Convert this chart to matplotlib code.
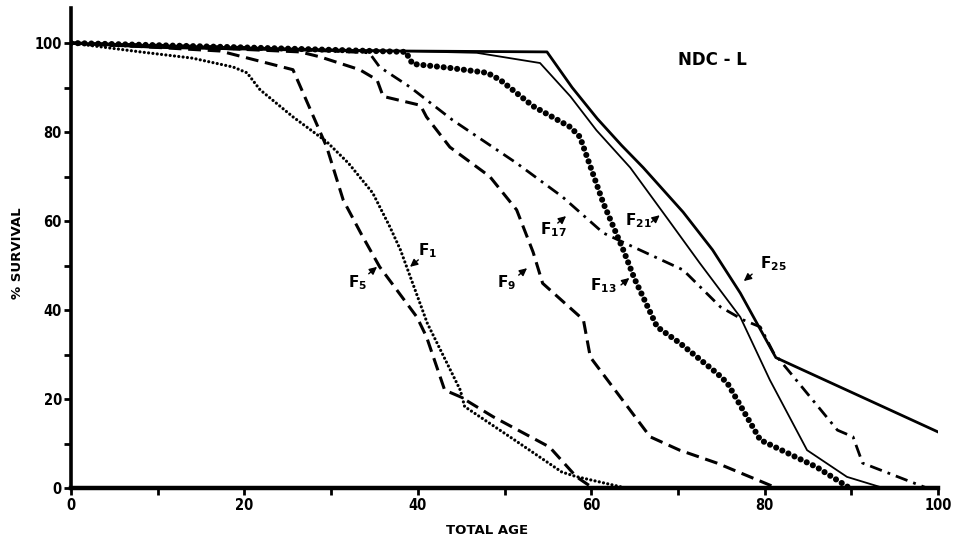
import matplotlib
matplotlib.use("Agg")
import matplotlib.pyplot as plt

plt.rcParams["font.family"] = ["DejaVu Sans"]
plt.rcParams["mathtext.fontset"] = "custom"
plt.rcParams["mathtext.rm"] = "DejaVu Sans:bold"
plt.rcParams["mathtext.it"] = "DejaVu Sans:bold"
plt.rcParams["mathtext.bf"] = "DejaVu Sans:bold"

# Survival curves (% alive vs. total age) for successive generations
f1_age = [0, 8, 14, 18.7, 20.3, 21.8, 25.6, 29.5, 32, 34.8, 36.8, 38, 41.1, 44.9, 45.4, 51, 56.6, 58.2, 64]
f1_surv = [100, 98, 96.6, 94.6, 93.3, 89.5, 83.4, 77.8, 73, 66.3, 58.6, 53.5, 37, 22, 18.3, 11, 3.6, 2.6, 0]

f5_age = [0, 10, 17.2, 25.6, 29.5, 31.4, 33.5, 35.6, 39.9, 41, 43.1, 44.9, 48.7, 55.2, 58.3, 60.2]
f5_surv = [100, 99, 98.2, 94, 76.6, 64.7, 57, 49.7, 38.4, 34, 22, 20.5, 16, 9.2, 2.5, 0]

f9_age = [0, 15, 26.4, 28.7, 33.3, 35.3, 36, 40.3, 41, 43.7, 48.3, 51.4, 53.3, 54.4, 59.1, 59.9, 66.8, 70.2, 74.5, 81.4]
f9_surv = [100, 99, 98, 96.9, 94, 91.7, 88, 86, 83.4, 76.6, 70, 62.5, 53, 46, 37.8, 29.4, 11.5, 8.5, 5.6, 0]

f13_age = [0, 20, 38.6, 39.4, 43.7, 48, 49.5, 53.3, 57.6, 58.7, 61.4, 63.7, 65, 67.6, 70.2, 74.5, 75.7, 79.5, 86, 89.8]
f13_surv = [100, 99, 98, 95.3, 94.4, 93.3, 91.7, 85.8, 81.1, 78.9, 64, 53.5, 47, 36.2, 32.6, 25.8, 23.6, 10.8, 4.7, 0]

f17_age = [0, 20, 34.4, 35.6, 39.1, 44, 51.4, 56.7, 61.4, 65.6, 70.6, 74.9, 77.5, 79.5, 81, 83, 88.4, 90.2, 91.3, 98.7]
f17_surv = [100, 99, 97.8, 94.6, 90.1, 82.7, 73, 65.4, 57.3, 53.5, 49, 40.7, 37.8, 36.2, 30.5, 25.8, 13, 11.5, 5.6, 0]

f21_age = [0, 20, 46.8, 54.1, 57.6, 60.6, 64.5, 69, 72.5, 77.2, 80.6, 84.9, 89.5, 93.7]
f21_surv = [100, 99, 97.8, 95.5, 88, 80.4, 72, 60, 50.6, 38.4, 24.3, 8.5, 2.5, 0]

f25_age = [0, 10, 30, 54.9, 57.8, 60.7, 63.5, 66, 70.6, 74, 77.2, 81.3, 100]
f25_surv = [100, 99, 98.3, 98, 90, 83, 77, 72, 62, 53.5, 43.8, 29.3, 12.6]

# curve label text, baseline-left position, arrow tip and arrow direction
labels = ["F$_{1}$", "F$_{5}$", "F$_{9}$", "F$_{13}$", "F$_{17}$", "F$_{21}$", "F$_{25}$"]
label_x = [40.0, 31.9, 49.1, 59.9, 54.1, 63.9, 79.5]
label_y = [52.4, 45.2, 45.2, 44.5, 56.9, 59.1, 49.4]
tip_x = [39.1, 35.3, 52.6, 64.4, 57.1, 67.9, 77.6]
tip_y = [49.7, 49.7, 49.4, 47.2, 61.1, 61.3, 46.5]
tip_dir = ["dl", "ur", "ur", "ur", "ur", "ur", "dl"]

x_ticks = list(range(0, 101, 10))
x_ticklabels = [str(v) if v % 20 == 0 else "" for v in x_ticks]
y_ticks = list(range(0, 101, 10))
y_ticklabels = [str(v) if v % 20 == 0 else "" for v in y_ticks]

fig = plt.figure(figsize=(9.59, 5.42), dpi=100)
ax = fig.add_axes([71 / 959, 1 - 488 / 542, (938 - 71) / 959, (488 - 8) / 542])
ytop = 100 * 480 / 445
ax.set_xlim(0, 100)
ax.set_ylim(0, ytop)

k = "black"
ax.plot(f1_age, f1_surv, color=k, lw=2.3, linestyle=(0, (0.01, 1.35)),
        dash_capstyle="round", solid_joinstyle="round")
ax.plot(f5_age, f5_surv, color=k, lw=2.2, linestyle=(0, (4.2, 2.2)))
ax.plot(f9_age, f9_surv, color=k, lw=2.2, linestyle=(0, (4.2, 2.2)))
ax.plot(f13_age, f13_surv, color=k, lw=4.4, linestyle=(0, (0.01, 1.1)),
        dash_capstyle="round")
ax.plot(f17_age, f17_surv, color=k, lw=2.0, linestyle=(0, (4.5, 2.2, 1.0, 2.2)))
ax.plot(f21_age, f21_surv, color=k, lw=1.3)
ax.plot(f25_age, f25_surv, color=k, lw=2.0)

for txt, lx, ly, tx, ty, d in zip(labels, label_x, label_y, tip_x, tip_y, tip_dir):
    ax.text(lx, ly, txt, fontsize=11, fontweight="bold", ha="left", va="baseline")
    off = (-6, -5) if d == "ur" else (6, 5)
    ax.annotate("", xy=(tx, ty), xytext=off, textcoords="offset points",
                arrowprops=dict(arrowstyle="-|>,head_length=0.45,head_width=0.22",
                                color=k, lw=1.0, shrinkA=0, shrinkB=0))

ax.text(70, 95.1, "NDC - L", fontsize=12, fontweight="bold", ha="left", va="baseline")

for s in ("top", "right"):
    ax.spines[s].set_visible(False)
ax.spines["left"].set_linewidth(2.6)
ax.spines["bottom"].set_linewidth(3.2)

ax.set_xticks(x_ticks)
ax.set_xticklabels(x_ticklabels)
ax.set_yticks(y_ticks)
ax.set_yticklabels(y_ticklabels)
ax.tick_params(axis="both", direction="out", length=5, width=2, labelsize=10.5)
ax.tick_params(axis="y", pad=1.5)
ax.tick_params(axis="x", pad=2)
for t in ax.get_xticklabels() + ax.get_yticklabels():
    t.set_fontweight("bold")
    t.set_fontstretch("condensed")

ax.set_xlabel("TOTAL AGE", fontsize=9.5, fontweight="bold")
ax.xaxis.label.set_va("center")
ax.xaxis.set_label_coords(48.0 / 100, -(530 - 488) / 480)
ax.set_ylabel("% SURVIVAL", fontsize=9.5, fontweight="bold")
ax.yaxis.label.set_va("center")
ax.yaxis.set_label_coords(-(71 - 18) / 867, 52.8 / ytop)

fig.savefig("out.png", dpi=100)
